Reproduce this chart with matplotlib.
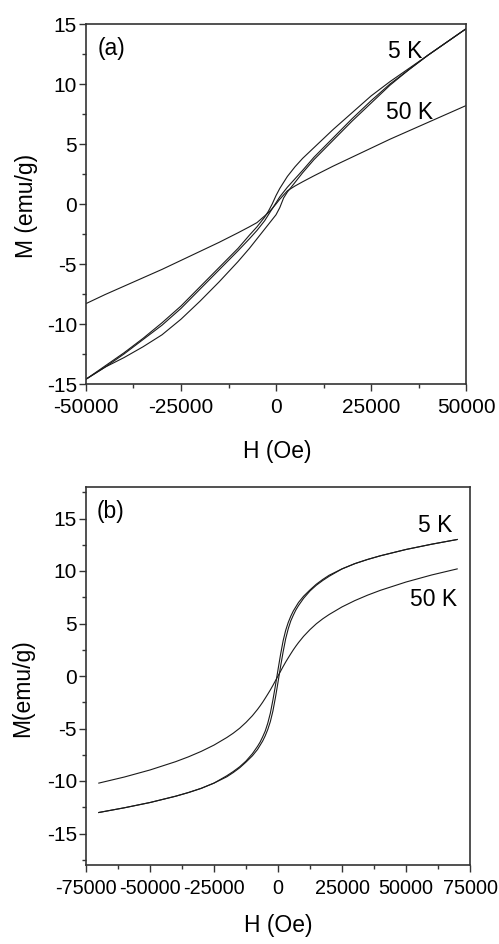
import matplotlib
matplotlib.use('Agg')
import matplotlib.pyplot as plt
from matplotlib.ticker import MultipleLocator

plt.rcParams['font.family'] = ['Liberation Sans', 'DejaVu Sans']
plt.rcParams['axes.unicode_minus'] = False

# ---- panel (a): 5 K loop and 50 K curve, H in Oe, M in emu/g
h_a = [-50000, -45000, -40000, -35000, -30000, -25000, -20000, -15000, -10000, -7000,
       -5000, -3000, -2000, -1000, 0, 1000, 2000, 3000, 5000, 7000,
       10000, 15000, 20000, 25000, 30000, 35000, 40000, 45000, 50000]
m5_desc = [-14.6, -13.5, -12.4, -11.2, -9.9, -8.5, -6.9, -5.3, -3.7, -2.6,
           -1.9, -1.1, -0.6, 0.0, 0.7, 1.3, 1.8, 2.3, 3.1, 3.8,
           4.7, 6.2, 7.6, 9.0, 10.2, 11.3, 12.4, 13.5, 14.6]
m5_asc = [-14.6, -13.6, -12.8, -11.9, -10.9, -9.6, -8.1, -6.5, -4.8, -3.7,
          -2.9, -2.1, -1.7, -1.3, -0.9, -0.3, 0.5, 1.0, 1.8, 2.6,
          3.7, 5.3, 6.9, 8.4, 9.9, 11.2, 12.4, 13.5, 14.6]
m5_third = [-14.6, -13.6, -12.5, -11.3, -10.1, -8.7, -7.1, -5.5, -3.9, -2.9,
            -2.2, -1.4, -0.9, -0.4, 0.1, 0.6, 1.0, 1.4, 2.1, 2.8,
            3.9, 5.5, 7.1, 8.6, 10.0, 11.2, 12.4, 13.5, 14.6]
m50_a = [-8.3, -7.55, -6.85, -6.15, -5.45, -4.7, -3.95, -3.2, -2.4, -1.9,
         -1.55, -1.0, -0.72, -0.38, 0.0, 0.4, 0.75, 1.1, 1.5, 1.85,
         2.35, 3.15, 3.9, 4.65, 5.4, 6.1, 6.8, 7.5, 8.2]

# ---- panel (b)
h_b = [-70000, -60000, -50000, -40000, -35000, -30000, -25000, -20000, -17500, -15000,
       -12500, -10000, -8000, -7000, -6000, -5000, -4000, -3000, -2000, -1000,
       0, 1000, 2000, 3000, 4000, 5000, 6000, 7000, 8000, 10000,
       12500, 15000, 17500, 20000, 25000, 30000, 35000, 40000, 50000, 60000, 70000]
m5_b_desc = [-13.0, -12.55, -12.05, -11.45, -11.1, -10.7, -10.2, -9.5, -9.1, -8.65,
             -8.1, -7.4, -6.7, -6.3, -5.8, -5.25, -4.5, -3.55, -2.3, -0.9,
             0.6, 2.05, 3.35, 4.35, 5.1, 5.7, 6.2, 6.6, 7.0, 7.6,
             8.2, 8.75, 9.2, 9.6, 10.2, 10.7, 11.1, 11.45, 12.05, 12.55, 13.0]
m5_b_asc = [-13.0, -12.55, -12.05, -11.45, -11.1, -10.7, -10.2, -9.6, -9.2, -8.75,
            -8.2, -7.6, -7.0, -6.6, -6.2, -5.7, -5.1, -4.35, -3.35, -2.05,
            -0.6, 0.9, 2.3, 3.55, 4.5, 5.25, 5.8, 6.3, 6.7, 7.4,
            8.1, 8.65, 9.1, 9.5, 10.2, 10.7, 11.1, 11.45, 12.05, 12.55, 13.0]
m50_b = [-10.2, -9.62, -8.95, -8.16, -7.7, -7.18, -6.58, -5.86, -5.45, -4.98,
         -4.42, -3.78, -3.18, -2.85, -2.5, -2.12, -1.73, -1.33, -0.9, -0.45,
         0.0, 0.45, 0.9, 1.33, 1.73, 2.12, 2.5, 2.85, 3.18, 3.78,
         4.42, 4.98, 5.45, 5.86, 6.58, 7.18, 7.7, 8.16, 8.95, 9.62, 10.2]

fs = 16.5      # labels and annotations
fs_tick = 15
lc = '#1a1a1a'
lw = 0.8

fig = plt.figure(figsize=(4.99, 9.44), dpi=100)
ax1 = fig.add_axes([86/499, 1-384/944, 380/499, 360/944])
ax2 = fig.add_axes([86/499, 1-865/944, 384/499, 378/944])


def style(ax, xsize):
    for s in ax.spines.values():
        s.set_linewidth(1.2)
        s.set_color('#333333')
    ax.tick_params(which='both', direction='out', top=False, right=False,
                   labelsize=fs_tick, color='#333333', width=1.0)
    ax.tick_params(which='major', length=5, pad=1.5)
    ax.tick_params(which='minor', length=3)
    ax.tick_params(axis='x', pad=5, labelsize=xsize)


# (a)
ax1.plot(h_a, m5_desc, color=lc, lw=lw)
ax1.plot(h_a, m5_asc, color=lc, lw=lw)
ax1.plot(h_a, m5_third, color=lc, lw=lw)
ax1.plot(h_a, m50_a, color=lc, lw=lw)
ax1.set_xlim(-50000, 50000)
ax1.set_ylim(-15, 15)
ax1.xaxis.set_major_locator(MultipleLocator(25000))
ax1.xaxis.set_minor_locator(MultipleLocator(12500))
ax1.yaxis.set_major_locator(MultipleLocator(5))
ax1.yaxis.set_minor_locator(MultipleLocator(2.5))
style(ax1, fs_tick)
ax1.set_xlabel('H (Oe)', fontsize=fs)
ax1.set_ylabel('M (emu/g)', fontsize=fs)
ax1.xaxis.set_label_coords(0.503, -0.156)
ax1.yaxis.set_label_coords(-0.125, 0.494)
ax1.text(-47000, 13.0, '(a)', fontsize=fs, ha='left', va='center')
ax1.text(33950, 12.7, '5 K', fontsize=fs, ha='center', va='center')
ax1.text(35260, 7.6, '50 K', fontsize=fs, ha='center', va='center')

# (b)
ax2.plot(h_b, m5_b_desc, color=lc, lw=lw)
ax2.plot(h_b, m5_b_asc, color=lc, lw=lw)
ax2.plot(h_b, m50_b, color=lc, lw=lw)
ax2.set_xlim(-75000, 75000)
ax2.set_ylim(-18, 18)
ax2.xaxis.set_major_locator(MultipleLocator(25000))
ax2.xaxis.set_minor_locator(MultipleLocator(12500))
ax2.yaxis.set_major_locator(MultipleLocator(5))
ax2.yaxis.set_minor_locator(MultipleLocator(2.5))
style(ax2, 14.3)
ax2.set_xlabel('H (Oe)', fontsize=fs)
ax2.set_ylabel('M(emu/g)', fontsize=fs)
ax2.xaxis.set_label_coords(0.5, -0.13)
ax2.yaxis.set_label_coords(-0.135, 0.468)
ax2.text(-70700, 15.67, '(b)', fontsize=fs, ha='left', va='center')
ax2.text(61520, 14.33, '5 K', fontsize=fs, ha='center', va='center')
ax2.text(60740, 7.33, '50 K', fontsize=fs, ha='center', va='center')

fig.savefig('out.png', dpi=100)
